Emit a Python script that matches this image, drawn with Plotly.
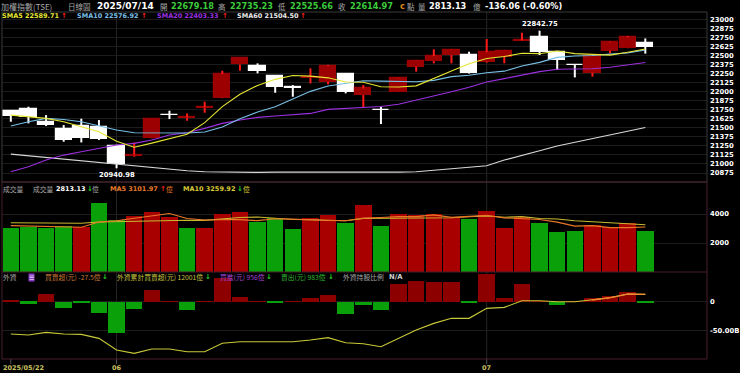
import plotly.graph_objects as go

W, H = 740, 373

dates = ["2025/05/22","2025/05/23","2025/05/26","2025/05/27","2025/05/28","2025/05/29",
         "2025/06/02","2025/06/03","2025/06/04","2025/06/05","2025/06/06","2025/06/09",
         "2025/06/10","2025/06/11","2025/06/12","2025/06/13","2025/06/16","2025/06/17",
         "2025/06/18","2025/06/19","2025/06/20","2025/06/23","2025/06/24","2025/06/25",
         "2025/06/26","2025/06/27","2025/06/30","2025/07/01","2025/07/02","2025/07/03",
         "2025/07/04","2025/07/07","2025/07/08","2025/07/09","2025/07/10","2025/07/11",
         "2025/07/14"]

opens  = [21732,21759,21575,21478,21524,21515,21248,21115,21354,21680,21640,21778,21916,22377,
          22359,22216,22058,22190,22137,22239,21953,21750,21999,22345,22423,22506,22506,22414,
          22483,22705,22751,22552,22372,22262,22566,22598,22679.18]
highs  = [21746,21792,21676,21538,21626,21607,21255,21298,21620,21736,21699,21861,22290,22472,
          22391,22230,22091,22322,22368,22253,22091,21792,22190,22432,22585,22580,22552,22728,
          22570,22815,22842.75,22555,22375,22495,22690,22769,22735.23]
lows   = [21584,21561,21525,21308,21298,21331,20940.98,21100,21350,21621,21598,21709,21910,22290,
          22253,21985,21930,22114,22101,21976,21782,21552,21995,22276,22391,22391,22250,22400,
          22391,22700,22506,22299,22197,22207,22529,22595,22525.66]
closes = [21667,21653,21545,21331,21354,21345,20994,21130,21617,21672,21648,21786,22243,22469,
          22285,22068,22050,22200,22354,21999,22045,21742,22184,22428,22492,22575,22253,22543,
          22566,22712,22552,22437,22365,22492,22681,22751,22614.97]

sma5  = [21676,21653,21630,21584,21510,21446,21314,21231,21288,21352,21412,21571,21793,21964,
         22086,22170,22223,22214,22191,22134,22130,22068,22065,22080,22178,22284,22386,22458,
         22486,22530,22525,22562,22526,22512,22505,22545,22589.71]
sma10 = [21524,21584,21630,21616,21584,21524,21469,21432,21432,21431,21429,21442,21512,21626,
         21719,21791,21897,22004,22078,22110,22150,22146,22140,22136,22156,22207,22227,22262,
         22283,22354,22405,22474,22492,22499,22518,22535,22576.92]
sma20 = [20893,20962,21054,21123,21169,21215,21262,21285,21331,21400,21432,21492,21561,21607,
         21644,21663,21676,21699,21755,21770,21789,21794,21826,21881,21938,21999,22062,22133,
         22180,22232,22277,22310,22316,22317,22337,22371,22403.33]
sma60 = [21137,21114,21086,21063,21040,21017,20999,20976,20953,20930,20907,20893,20888,20884,
         20884,20888,20888,20888,20888,20888,20884,20879,20888,20893,20916,20939,20962,20976,
         21054,21123,21183,21248,21299,21354,21405,21456,21504.50]

volume = [3011,3126,3011,3172,3126,4781,3586,3885,4115,3816,3057,3057,4000,4115,3471,3701,2965,
          3701,3931,3356,4621,3173,4000,3931,3977,3747,3655,4230,3057,3816,3356,2736,2851,3241,
          3126,3356,2813.13]
vol_up = [0,0,0,0,1,0,0,1,1,1,0,1,1,1,0,0,0,1,1,0,1,0,1,1,1,1,0,1,1,1,0,0,0,1,1,1,0]
vol_ma5  = [3200,3180,3150,3130,3089,3443,3535,3710,3899,4037,3692,3586,3609,3609,3540,3669,3650,
            3591,3554,3531,3715,3756,3816,3816,3940,3766,3862,3908,3733,3701,3623,3439,3163,3200,
            3062,3062,3101.97]
vol_ma10 = [3400,3390,3380,3370,3360,3450,3480,3500,3530,3563,3568,3561,3660,3754,3788,3680,3618,
            3600,3581,3535,3692,3703,3703,3685,3736,3740,3809,3862,3775,3821,3694,3651,3536,3467,
            3378,3338,3259.92]

foreign_net = [2.9,-3.4,13.2,-10.3,-1.7,-20.1,-53.4,-13.2,20.1,0.5,-13.8,0.3,40.2,8.0,0.5,-1.7,
               0.5,6.3,12.1,-20.7,-5.2,-14.9,29.9,35.6,33.3,33.3,-2.3,48.0,5.7,29.9,0.3,-5.7,0.5,
               6.9,9.2,16.1,-2.75]
foreign_cum = [-55.7,-57.5,-52.9,-55.7,-56.3,-63.2,-83.3,-89.0,-81.5,-81.5,-86.2,-86.2,-71.7,-69.0,
               -69.0,-69.0,-69.0,-66.0,-62.0,-70.7,-72.4,-77.6,-63.2,-48.9,-37.4,-28.7,-28.7,-11.5,
               -9.8,1.7,1.7,0.0,0.0,2.9,6.9,13.2,12.6]

price_ticks = [20875,21000,21125,21250,21375,21500,21625,21750,21875,22000,22125,22250,22375,
               22500,22625,22750,22875,23000]
vol_ticks = [2000, 4000]
foreign_ticks = [0, -50]
foreign_tick_text = ["0", "-50.00B"]
month_labels = ["2025/05/22", "06", "07"]
month_idx = [0, 6, 27]

n = len(dates)
xs = list(range(n))

def px2x(p):
    return p / W

def py2y(p):
    return 1 - p / H

X0, X1 = px2x(2), px2x(707)
MAIN = [py2y(182), py2y(12)]
VOL = [py2y(272), py2y(182)]
FOR = [py2y(359), py2y(272)]

RED_BODY = "#9c0000"
RED_WICK = "#ff1a1a"
WHITE = "#ffffff"
BOLD = "DejaVu Sans"
CJK = "Noto Sans CJK TC"

fig = go.Figure()

# wicks (drawn only outside of the bodies)
wx_r, wy_r, wx_w, wy_w = [], [], [], []
for i in xs:
    top = max(opens[i], closes[i]); bot = min(opens[i], closes[i])
    if closes[i] >= opens[i]:
        wx_r += [i, i, None, i, i, None]
        wy_r += [lows[i], bot, None, top, highs[i], None]
    else:
        wx_w += [i, i, None]; wy_w += [lows[i], highs[i], None]
fig.add_trace(go.Scatter(x=wx_r, y=wy_r, mode="lines", line=dict(color=RED_WICK, width=2),
                         xaxis="x", yaxis="y", hoverinfo="skip"))
fig.add_trace(go.Scatter(x=wx_w, y=wy_w, mode="lines", line=dict(color=WHITE, width=2),
                         xaxis="x", yaxis="y", hoverinfo="skip"))
# bodies
body_base = [min(o, c) for o, c in zip(opens, closes)]
body_h = [abs(c - o) for o, c in zip(opens, closes)]
body_col = [RED_BODY if c >= o else WHITE for o, c in zip(opens, closes)]
fig.add_trace(go.Bar(x=xs, y=body_h, base=body_base, width=0.92,
                     marker=dict(color=body_col, line=dict(color=body_col, width=1.2)),
                     xaxis="x", yaxis="y", hoverinfo="skip"))
# SMAs
for s, col in [(sma60, "#d8d8d8"), (sma20, "#9b30e0"), (sma10, "#78bfe6"), (sma5, "#e6e633")]:
    fig.add_trace(go.Scatter(x=xs, y=s, mode="lines", line=dict(color=col, width=1.1),
                             xaxis="x", yaxis="y", hoverinfo="skip"))

# volume
vcol = ["#a80000" if u else "#0aa00a" for u in vol_up]
fig.add_trace(go.Bar(x=xs, y=volume, width=0.93, marker=dict(color=vcol, line=dict(width=0)),
                     xaxis="x2", yaxis="y2", hoverinfo="skip"))
fig.add_trace(go.Scatter(x=xs, y=vol_ma10, mode="lines", line=dict(color="#c8b830", width=1.1),
                         xaxis="x2", yaxis="y2", hoverinfo="skip"))
fig.add_trace(go.Scatter(x=xs, y=vol_ma5, mode="lines", line=dict(color="#e87828", width=1.1),
                         xaxis="x2", yaxis="y2", hoverinfo="skip"))

# foreign investors
fcol = ["#8c0000" if v >= 0 else "#0aa00a" for v in foreign_net]
fig.add_trace(go.Bar(x=xs, y=foreign_net, width=0.93, marker=dict(color=fcol, line=dict(width=0)),
                     xaxis="x3", yaxis="y3", hoverinfo="skip"))
fig.add_trace(go.Scatter(x=xs, y=foreign_cum, mode="lines", line=dict(color="#c8c838", width=1.1),
                         xaxis="x3", yaxis="y3", hoverinfo="skip"))
fig.add_trace(go.Scatter(x=xs[33:], y=foreign_cum[33:], mode="lines",
                         line=dict(color="#f08a30", width=1.3),
                         xaxis="x3", yaxis="y3", hoverinfo="skip"))

xr = [-0.5, 39.5]
tickfont = dict(family=BOLD, size=6.8, color="#ffffff", weight="bold")
axcommon = dict(range=xr, showgrid=False, zeroline=False, showticklabels=False, ticks="",
                fixedrange=True, automargin=False)

fig.update_layout(
    width=W, height=H, margin=dict(l=0, r=0, t=0, b=0, pad=0), autosize=False,
    paper_bgcolor="#000000", plot_bgcolor="#000000", showlegend=False, bargap=0,
    xaxis=dict(domain=[X0, X1], anchor="y", **axcommon),
    xaxis2=dict(domain=[X0, X1], anchor="y2", **axcommon),
    xaxis3=dict(domain=[X0, X1], anchor="y3", **axcommon),
    yaxis=dict(domain=MAIN, range=[20751, 23101], side="right", anchor="x",
               tickvals=price_ticks, ticktext=[str(t) for t in price_ticks],
               showgrid=True, gridcolor="#1c1c1c", gridwidth=1, zeroline=False, automargin=False,
               tickfont=tickfont, ticks="", ticklabelstandoff=2),
    yaxis2=dict(domain=VOL, range=[0, 6207], side="right", anchor="x2",
                tickvals=vol_ticks, ticktext=[str(t) for t in vol_ticks], automargin=False,
                showgrid=True, gridcolor="#1c1c1c", zeroline=False,
                tickfont=tickfont, ticks="", ticklabelstandoff=2),
    yaxis3=dict(domain=FOR, range=[-98.8, 51.2], side="right", anchor="x3",
                tickvals=foreign_ticks, ticktext=foreign_tick_text, automargin=False,
                showgrid=True, gridcolor="#1c1c1c", zeroline=False,
                tickfont=tickfont, ticks="", ticklabelstandoff=2),
)

shapes = []
# vertical month lines
for mi in month_idx[1:]:
    for xa, dom in [("x", MAIN), ("x2", VOL), ("x3", FOR)]:
        shapes.append(dict(type="line", xref=xa, x0=mi, x1=mi, yref="paper",
                           y0=dom[0], y1=dom[1], line=dict(color="#262626", width=1), layer="below"))
for mi in month_idx:
    shapes.append(dict(type="line", xref="x3", x0=mi, x1=mi, yref="paper",
                       y0=py2y(364), y1=py2y(359), line=dict(color="#555555", width=1)))
# panel borders
shapes.append(dict(type="rect", xref="paper", yref="paper", x0=X0, x1=X1, y0=MAIN[0], y1=MAIN[1],
                   line=dict(color="#3a3a3a", width=1)))
shapes.append(dict(type="rect", xref="paper", yref="paper", x0=X0, x1=X1, y0=FOR[0], y1=VOL[1],
                   line=dict(color="#4a1e2c", width=1)))
shapes.append(dict(type="line", xref="paper", yref="paper", x0=X0, x1=X1, y0=VOL[0], y1=VOL[0],
                   line=dict(color="#4a1e2c", width=1)))
fig.update_layout(shapes=shapes)

ann = []
def txt(px, py, s, color, size=6.5, bold=True, family=None, anchor="left"):
    f = dict(family=family or BOLD, size=size, color=color)
    if bold:
        f["weight"] = "bold"
    ann.append(dict(xref="paper", yref="paper", x=px2x(px), y=py2y(py), text=s, showarrow=False,
                    xanchor=anchor, yanchor="middle", font=f, borderpad=0))

GREY = "#a8a8a8"
GRN = "#3ccc3c"
# header row
txt(0, 6, "加權指數(TSE)", GREY, 8, False, CJK)
txt(67, 6, "日線圖", GREY, 7.5, False, CJK)
txt(96, 6, "2025/07/14", "#ffffff", 9)
txt(159, 6, "開", GREY, 7.5, False, CJK)
txt(170, 6, "22679.18", GRN, 8.2)
txt(217, 6, "高", GREY, 7.5, False, CJK)
txt(229, 6, "22735.23", GRN, 8.2)
txt(277, 6, "低", GREY, 7.5, False, CJK)
txt(289, 6, "22525.66", GRN, 8.2)
txt(337, 6, "收", GREY, 7.5, False, CJK)
txt(349, 6, "22614.97", GRN, 8.2)
txt(399, 6, "c", "#e08a20", 8)
txt(406, 6, "點", GREY, 7.5, False, CJK)
txt(417, 6, "量", GREY, 7.5, False, CJK)
txt(428, 6, "2813.13", "#ffffff", 8.2)
txt(472, 6, "億", GREY, 7.5, False, CJK)
txt(484, 6, "-136.06 (-0.60%)", "#ffffff", 8.2)
# SMA row
UP = "#ff2020"; DN = "#20d020"
txt(1, 16, "SMA5 22589.71", "#e6e633"); txt(60, 16, "↑", UP, 7)
txt(76, 16, "SMA10 22576.92", "#78bfe6"); txt(140, 16, "↑", UP, 7)
txt(156, 16, "SMA20 22403.33", "#9b30e0"); txt(221, 16, "↑", UP, 7)
txt(236, 16, "SMA60 21504.50", "#e8e8e8"); txt(299, 16, "↑", UP, 7)
# volume header
txt(2, 189, "成交量", GREY, 6.8, False, CJK)
txt(32, 189, "成交量", GREY, 6.8, False, CJK)
txt(55, 189, "2813.13", "#ffffff"); txt(86, 189, "↓", DN, 7)
txt(91, 189, "億", GREY, 6.8, False, CJK)
txt(109, 189, "MA5 3101.97", "#e87828"); txt(159, 189, "↑", UP, 7)
txt(165, 189, "億", "#e87828", 6.8, False, CJK)
txt(182, 189, "MA10 3259.92", "#d8c838"); txt(236, 189, "↓", DN, 7)
txt(242, 189, "億", "#d8c838", 6.8, False, CJK)
# foreign header
txt(2, 277, "外資", GREY, 6.8, False, CJK)
ann.append(dict(xref="paper", yref="paper", x=px2x(31), y=py2y(277), text="☰", showarrow=False,
                xanchor="center", yanchor="middle", bgcolor="#8a3cc8",
                font=dict(family=BOLD, size=6, color="#ffffff"), borderpad=0))
txt(44, 277, "買賣超(元) -27.5億", "#c87838", 6.8, False, CJK); txt(101, 277, "↓", DN, 7)
txt(116, 277, "外資累計買賣超(元) 12001億", "#c8c040", 6.8, False, CJK); txt(204, 277, "↓", DN, 7)
txt(219, 277, "買進(元) 956億", "#a040d0", 6.8, False, CJK); txt(265, 277, "↓", DN, 7)
txt(280, 277, "賣出(元) 983億", "#30b830", 6.8, False, CJK); txt(327, 277, "↓", DN, 7)
txt(342, 277, "外資持股比例", GREY, 6.8, False, CJK)
txt(388, 277, "N/A", "#d0d0d0", 6.8)
# x labels
XL = "#c8c060"
txt(2, 368, month_labels[0], XL)
for lab, mi in zip(month_labels[1:], month_idx[1:]):
    ann.append(dict(xref="x3", yref="paper", x=mi, y=py2y(368), text=lab, showarrow=False,
                    xanchor="center", yanchor="middle",
                    font=dict(family=BOLD, size=6.5, color=XL, weight="bold")))
# high / low labels
hi_i = max(xs, key=lambda i: highs[i]); lo_i = min(xs, key=lambda i: lows[i])
ann.append(dict(xref="x", yref="y", x=hi_i, y=highs[hi_i], text=f"{highs[hi_i]:.2f}", showarrow=False,
                yanchor="bottom", yshift=1, font=dict(family=BOLD, size=6.8, color="#ffffff", weight="bold")))
ann.append(dict(xref="x", yref="y", x=lo_i, y=lows[lo_i], text=f"{lows[lo_i]:.2f}", showarrow=False,
                yanchor="top", yshift=-1, font=dict(family=BOLD, size=6.8, color="#ffffff", weight="bold")))
fig.update_layout(annotations=ann)

fig.write_html("out.html", config={"displayModeBar": False},
               post_script="document.body.style.margin='0';document.body.style.padding='0';"
                           "document.documentElement.style.overflow='hidden';")
